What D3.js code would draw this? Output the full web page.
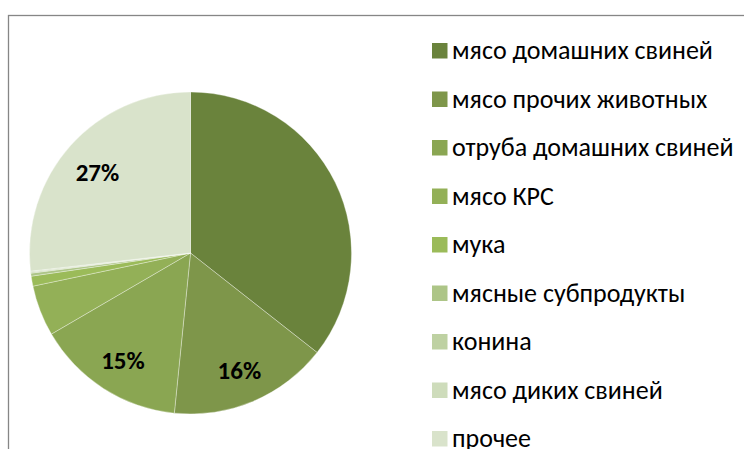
<!DOCTYPE html>
<html>
<head>
<meta charset="utf-8">
<script src="https://cdn.jsdelivr.net/npm/d3@7"></script>
<style>
  html, body { margin: 0; padding: 0; background: #fff; }
  svg { display: block; }
</style>
</head>
<body>
<div id="chart"></div>
<script>
// data (percent shares)
const categories = [
  "мясо домашних свиней",
  "мясо прочих животных",
  "отруба домашних свиней",
  "мясо КРС",
  "мука",
  "мясные субпродукты",
  "конина",
  "мясо диких свиней",
  "прочее"
];
const values = [35.6, 16.0, 15.0, 5.1, 1.0, 0.3, 0.1, 0.1, 26.8];
// labels that are visible in the picture (first slice has none)
const labels = ["", "16%", "15%", "", "", "", "", "", "27%"];
const colors = [
  "#6a833c", "#7e964a", "#8aa652", "#93b057", "#9bbb59",
  "#adc587", "#bed1a2", "#cedcbb", "#d9e3cb"
];

const W = 744, H = 449;
const CX = 190.5, CY = 253, R = 161;
const FONT = "Carlito, Calibri, 'Open Sans', sans-serif";

const svg = d3.select("#chart").append("svg")
  .attr("width", W)
  .attr("height", H);

// chart frame (runs off the right and bottom edges)
svg.append("rect")
  .attr("x", 8.5)
  .attr("y", 15.5)
  .attr("width", 800)
  .attr("height", 500)
  .attr("fill", "#fff")
  .attr("stroke", "#868686")
  .attr("stroke-width", 1.3);

const color = d3.scaleOrdinal().domain(categories).range(colors);

const pie = d3.pie().sort(null).value(d => d.value);
const arcs = pie(categories.map((c, i) => ({ name: c, value: values[i], label: labels[i] })));
const arc = d3.arc().innerRadius(0).outerRadius(R);
const labelArc = d3.arc().innerRadius(R * 0.775).outerRadius(R * 0.775);

const g = svg.append("g").attr("transform", `translate(${CX},${CY})`);

g.selectAll("path")
  .data(arcs)
  .join("path")
  .attr("d", arc)
  .attr("fill", d => color(d.data.name))
  .attr("stroke", "rgba(255,255,255,0.45)")
  .attr("stroke-width", 0.75);

g.selectAll("text")
  .data(arcs.filter(d => d.data.label))
  .join("text")
  .attr("transform", d => `translate(${labelArc.centroid(d)})`)
  .attr("text-anchor", "middle")
  .attr("dy", "0.45em")
  .attr("font-family", FONT)
  .attr("font-size", "25px")
  .attr("font-weight", "bold")
  .attr("fill", "#000")
  .text(d => d.data.label);

// legend
const legend = svg.append("g");
const rows = legend.selectAll("g")
  .data(categories)
  .join("g")
  .attr("transform", (d, i) => `translate(432,${51 + i * 48.5})`);

rows.append("rect")
  .attr("x", 0)
  .attr("y", -8)
  .attr("width", 15.5)
  .attr("height", 15.5)
  .attr("fill", d => color(d));

rows.append("text")
  .attr("x", 20)
  .attr("y", 8)
  .attr("font-family", FONT)
  .attr("font-size", "26px")
  .attr("fill", "#000")
  .text(d => d);
</script>
</body>
</html>
